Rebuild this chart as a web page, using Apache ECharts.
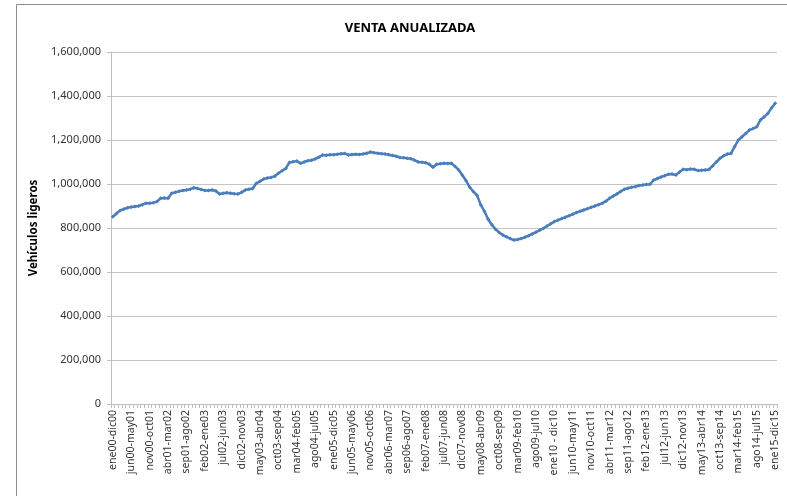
<!DOCTYPE html>
<html>
<head>
<meta charset="utf-8">
<script src="https://cdn.jsdelivr.net/npm/echarts@6/dist/echarts.min.js"></script>
<style>
  html, body { margin: 0; padding: 0; background: #fff; }
  #main { width: 787px; height: 496px; }
</style>
</head>
<body>
<div id="main"></div>
<script>
// meses (abreviatura en español) para armar las ventanas de 12 meses
var meses = ['ene', 'feb', 'mar', 'abr', 'may', 'jun', 'jul', 'ago', 'sep', 'oct', 'nov', 'dic'];

// venta anualizada (miles de vehículos), una fila por año de inicio
var venta2000 = [851, 866, 880, 886, 892, 895, 898, 900, 906, 912, 913, 915];
var venta2001 = [920, 935, 936, 935, 958, 962, 967, 970, 973, 976, 983, 980];
var venta2002 = [975, 971, 970, 973, 968, 955, 958, 960, 958, 956, 955, 962];
var venta2003 = [973, 976, 980, 1003, 1012, 1023, 1027, 1030, 1035, 1049, 1060, 1071];
var venta2004 = [1098, 1101, 1104, 1094, 1100, 1106, 1108, 1114, 1122, 1132, 1131, 1133];
var venta2005 = [1133, 1135, 1137, 1139, 1132, 1134, 1135, 1134, 1136, 1140, 1145, 1142];
var venta2006 = [1140, 1138, 1136, 1133, 1130, 1126, 1121, 1119, 1117, 1115, 1108, 1100];
var venta2007 = [1099, 1097, 1090, 1076, 1090, 1092, 1094, 1093, 1094, 1080, 1064, 1040];
var venta2008 = [1015, 985, 965, 948, 905, 875, 840, 815, 794, 780, 768, 760];
var venta2009 = [752, 745, 748, 752, 758, 765, 773, 781, 790, 798, 809, 819];
var venta2010 = [829, 836, 843, 849, 856, 863, 870, 876, 882, 888, 894, 900];
var venta2011 = [906, 912, 922, 935, 945, 955, 966, 976, 981, 985, 988, 993];
var venta2012 = [995, 998, 999, 1018, 1025, 1032, 1038, 1044, 1045, 1041, 1054, 1067];
var venta2013 = [1065, 1068, 1067, 1061, 1062, 1064, 1066, 1082, 1100, 1117, 1128, 1136];
var venta2014 = [1139, 1170, 1200, 1215, 1230, 1245, 1252, 1260, 1291, 1305, 1321, 1345];
var venta2015 = [1367];

var yTicks = [0, 200000, 400000, 600000, 800000, 1000000, 1200000, 1400000, 1600000];

var porAnio = [venta2000, venta2001, venta2002, venta2003, venta2004, venta2005, venta2006, venta2007,
    venta2008, venta2009, venta2010, venta2011, venta2012, venta2013, venta2014, venta2015];

var categorias = [];
var valores = [];
porAnio.forEach(function(fila, a) {
    fila.forEach(function(v, m) {
        var y1 = ('0' + a).slice(-2);
        var fin = (m + 11) % 12;
        var y2 = ('0' + (m === 0 ? a : a + 1)).slice(-2);
        var etiqueta = meses[m] + y1 + '-' + meses[fin] + y2;
        if (etiqueta === 'ene10-dic10') etiqueta = 'ene10 - dic10';
        categorias.push(etiqueta);
        valores.push(v * 1000);
    });
});

var fuente = '"Noto Sans", "Liberation Sans", sans-serif';

var myChart = echarts.init(document.getElementById('main'));
myChart.setOption({
    animation: false,
    backgroundColor: '#fff',
    title: {
        text: 'VENTA ANUALIZADA',
        left: 405,
        top: 17,
        textAlign: 'center',
        textStyle: { fontFamily: fuente, fontSize: 13, fontWeight: 'bold', color: '#000' }
    },
    graphic: [{
        type: 'rect',
        shape: { x: 16.5, y: 4.5, width: 900, height: 700 },
        style: { fill: 'none', stroke: '#8c8c8c', lineWidth: 1 },
        silent: true
    }],
    grid: { left: 111, right: 10, top: 52, bottom: 92 },
    xAxis: {
        type: 'category',
        data: categorias,
        boundaryGap: true,
        axisLine: { lineStyle: { color: '#bfbfbf' } },
        axisTick: { show: true, interval: 0, length: 4, lineStyle: { color: '#bfbfbf' } },
        axisLabel: {
            interval: 4,
            rotate: 90,
            margin: 6,
            fontFamily: fuente,
            fontSize: 10.5,
            color: '#333'
        },
        splitLine: { show: false }
    },
    yAxis: {
        type: 'value',
        min: 0,
        max: 1600000,
        interval: 200000,
        name: 'Vehículos ligeros',
        nameLocation: 'middle',
        nameGap: 70,
        nameTextStyle: { fontFamily: fuente, fontSize: 11.5, fontWeight: 'bold', color: '#000' },
        axisLine: { show: true, lineStyle: { color: '#bfbfbf' } },
        axisTick: { show: true, length: 4, lineStyle: { color: '#bfbfbf' } },
        axisLabel: {
            margin: 10,
            fontFamily: fuente,
            fontSize: 11,
            color: '#333',
            formatter: function(v) {
                return yTicks.indexOf(v) >= 0 ? v.toLocaleString('en-US') : '';
            }
        },
        splitLine: { show: true, lineStyle: { color: '#c4c4c4', width: 1 } }
    },
    series: [{
        name: 'Venta anualizada',
        type: 'line',
        data: valores,
        symbol: 'diamond',
        symbolSize: 4,
        showAllSymbol: true,
        itemStyle: { color: '#4A7EBB' },
        lineStyle: { color: '#4A7EBB', width: 2.5 }
    }]
});
</script>
</body>
</html>
